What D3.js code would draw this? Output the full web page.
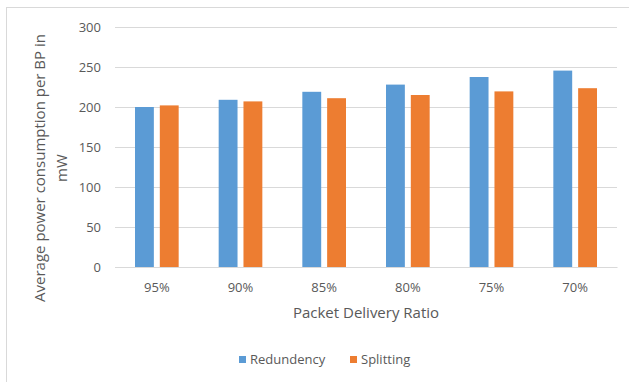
<!DOCTYPE html>
<html>
<head>
<meta charset="utf-8">
<script src="https://cdn.jsdelivr.net/npm/d3@7"></script>
<style>
  body { margin: 0; background: #fff; }
  text { font-family: "Open Sans", sans-serif; fill: #595959; }
</style>
</head>
<body>
<div id="chart"></div>
<script>
const categories = ['95%', '90%', '85%', '80%', '75%', '70%'];
const seriesNames = ['Redundency', 'Splitting'];
const redundency = [200, 209, 219, 228, 237.5, 245.5];
const splitting = [202, 207, 211, 215, 219.5, 223.5];
const yTicks = [0, 50, 100, 150, 200, 250, 300];
const colors = ['#5B9BD5', '#ED7D31'];

const width = 629, height = 382;
const margin = {left: 115, right: 12, top: 27, bottom: 115};

const svg = d3.select('#chart').append('svg')
    .attr('width', width)
    .attr('height', height);

// chart border
svg.append('rect')
    .attr('x', 6.5).attr('y', 7.5)
    .attr('width', 640).attr('height', 400)
    .attr('fill', 'none')
    .attr('stroke', '#D9D9D9');

const x = d3.scaleBand()
    .domain(categories)
    .range([margin.left, width - margin.right]);

const x1 = d3.scaleBand()
    .domain(seriesNames)
    .range([20, x.bandwidth() - 20])
    .paddingInner(0.24);

const y = d3.scaleLinear()
    .domain([0, 300])
    .range([height - margin.bottom, margin.top]);

// gridlines + y labels
const yAxis = svg.append('g')
    .attr('transform', `translate(${margin.left},0)`)
    .call(d3.axisLeft(y).tickValues(yTicks).tickSize(-(width - margin.left - margin.right)).tickPadding(14));
yAxis.select('.domain').remove();
yAxis.selectAll('line').attr('stroke', '#D9D9D9');
yAxis.selectAll('text').style('font-size', '13px').style('font-family', '"Open Sans", sans-serif').attr('fill', '#595959');

const rows = categories.map((c, i) => ({cat: c, vals: [redundency[i], splitting[i]]}));

const groups = svg.append('g').selectAll('g')
    .data(rows)
    .join('g')
    .attr('transform', d => `translate(${x(d.cat)},0)`);

groups.selectAll('rect')
    .data(d => d.vals.map((v, j) => ({name: seriesNames[j], v: v, j: j})))
    .join('rect')
    .attr('x', d => x1(d.name))
    .attr('y', d => y(d.v))
    .attr('width', x1.bandwidth())
    .attr('height', d => y(0) - y(d.v))
    .attr('fill', d => colors[d.j]);

// x labels
const xAxis = svg.append('g')
    .attr('transform', `translate(0,${y(0)})`)
    .call(d3.axisBottom(x).tickSize(0).tickPadding(16));
xAxis.select('.domain').attr('stroke', '#D9D9D9');
xAxis.selectAll('text').style('font-size', '13px').style('font-family', '"Open Sans", sans-serif').attr('fill', '#595959');

// axis titles
svg.append('text')
    .attr('x', (margin.left + width - margin.right) / 2)
    .attr('y', 318)
    .attr('text-anchor', 'middle')
    .style('font-size', '15px')
    .text('Packet Delivery Ratio');

const yTitle = svg.append('text')
    .attr('transform', 'translate(45,168) rotate(-90)')
    .attr('text-anchor', 'middle')
    .style('font-size', '15px');
yTitle.append('tspan').attr('x', 0).attr('dy', 0).text('Average power consumption per BP in');
yTitle.append('tspan').attr('x', 0).attr('dy', 22).text('mW');

// legend
const legend = svg.append('g').attr('transform', 'translate(239,356)');
const items = legend.selectAll('g')
    .data(seriesNames)
    .join('g')
    .attr('transform', (d, i) => `translate(${i * 111},0)`);
items.append('rect')
    .attr('width', 7).attr('height', 7)
    .attr('fill', (d, i) => colors[i]);
items.append('text')
    .attr('x', 11).attr('y', 8)
    .style('font-size', '13px')
    .text(d => d);
</script>
</body>
</html>
